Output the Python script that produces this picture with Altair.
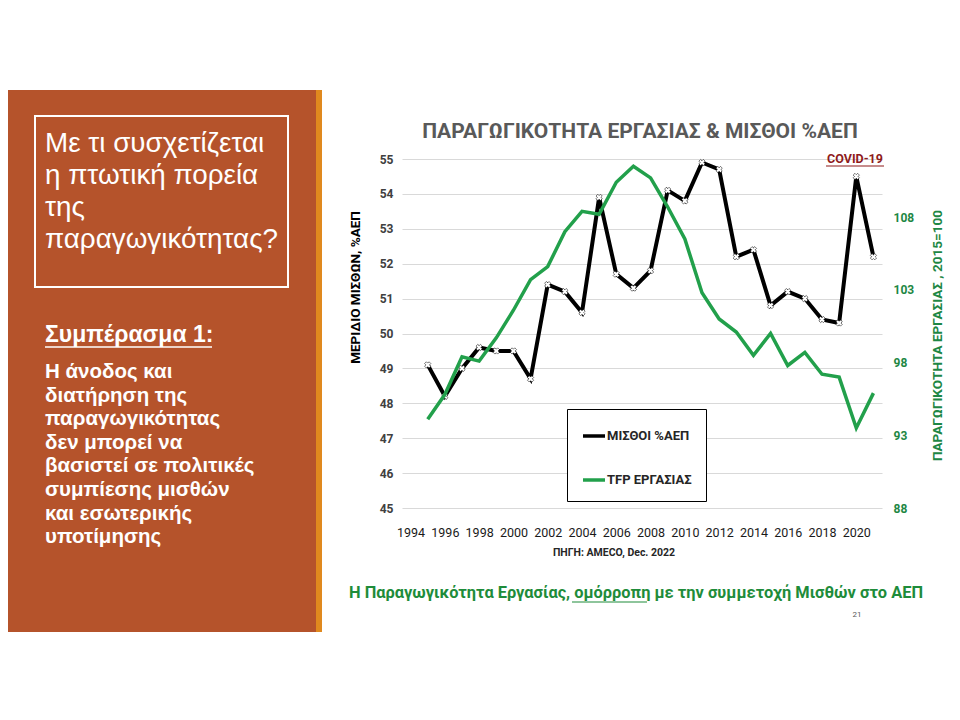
import altair as alt
import pandas as pd

# ---------------- data ----------------
years = list(range(1995, 2022))
wages = [49.1, 48.2, 49.0, 49.6, 49.5, 49.5, 48.7, 51.4, 51.2, 50.6, 53.9, 51.7, 51.3, 51.8,
         54.1, 53.8, 54.9, 54.7, 52.2, 52.4, 50.8, 51.2, 51.0, 50.4, 50.3, 54.5, 52.2]
tfp = [94.1, 95.8, 98.4, 98.1, 99.7, 101.6, 103.7, 104.6, 107.0, 108.4, 108.2, 110.4, 111.5, 110.7,
       108.7, 106.5, 102.8, 101.0, 100.1, 98.5, 100.0, 97.8, 98.7, 97.2, 97.0, 93.5, 95.9]
series_names = ["ΜΙΣΘΟΙ %ΑΕΠ", "TFP ΕΡΓΑΣΙΑΣ"]
x_ticks = list(range(1994, 2021, 2))
left_ticks = list(range(45, 56))
right_ticks = [88, 93, 98, 103, 108]

chart_title = "ΠΑΡΑΓΩΓΙΚΟΤΗΤΑ ΕΡΓΑΣΙΑΣ & ΜΙΣΘΟΙ %ΑΕΠ"
left_title = "ΜΕΡΙΔΙΟ ΜΙΣΘΩΝ, %ΑΕΠ"
right_title = "ΠΑΡΑΓΩΓΙΚΟΤΗΤΑ ΕΡΓΑΣΙΑΣ , 2015=100"
covid_label = "COVID-19"
source_label = "ΠΗΓΗ: AMECO, Dec. 2022"
caption_text = "Η Παραγωγικότητα Εργασίας, ομόρροπη με την συμμετοχή Μισθών στο ΑΕΠ"
page_number = "21"
box_lines = ["Με τι συσχετίζεται", "η πτωτική πορεία", "της", "παραγωγικότητας?"]
concl_title = "Συμπέρασμα 1:"
concl_lines = ["Η άνοδος και", "διατήρηση της", "παραγωγικότητας", "δεν μπορεί να",
               "βασιστεί σε πολιτικές", "συμπίεσης μισθών", "και εσωτερικής", "υποτίμησης"]

df = pd.DataFrame({
    "year": years + years,
    "series": [series_names[0]] * len(years) + [series_names[1]] * len(years),
    "value": wages + tfp,
})

GREEN = "#22A04B"
DGREEN = "#1E8744"
CF = "Roboto"
PF = "Liberation Sans"

W, H = 480, 349

x_enc = alt.X("year:Q",
              scale=alt.Scale(domain=[1993.5, 2021.5], nice=False, zero=False),
              axis=alt.Axis(values=x_ticks, format="d", title=None, grid=False, domain=False,
                            ticks=False, labelPadding=18, labelFontSize=12.5, labelColor="#1a1a1a",
                            labelFont=CF, labelOverlap=False, labelFlush=False))

color_enc = alt.Color("series:N",
                      scale=alt.Scale(domain=series_names, range=["#000000", GREEN]),
                      legend=alt.Legend(title=None, orient="none", legendX=165, legendY=250,
                                        direction="vertical", symbolType="stroke",
                                        symbolStrokeWidth=3.5, symbolSize=484,
                                        labelFont=CF, labelFontSize=13, labelFontWeight="bold",
                                        labelColor="#262626", strokeColor="black",
                                        fillColor="white", padding=14, rowPadding=24,
                                        labelOffset=0))

y_left = alt.Y("value:Q",
               scale=alt.Scale(domain=[45, 55], nice=False, zero=False),
               axis=alt.Axis(values=left_ticks, orient="left", title=left_title,
                             titleX=-47, titleY=128, titleAngle=270, titleAlign="center",
                             titleBaseline="middle", titleFont=CF, titleFontSize=13.5,
                             titleFontWeight="bold", titleColor="#000000",
                             labelFont=CF, labelFontWeight="bold", labelFontSize=12,
                             labelColor="#404040", labelPadding=9, grid=True,
                             gridColor="#D9D9D9", gridWidth=1, domain=False, ticks=False))

y_right = alt.Y("value:Q",
                scale=alt.Scale(domain=[88, 112], nice=False, zero=False),
                axis=alt.Axis(values=right_ticks, orient="right", title=right_title,
                              titleX=55, titleY=176, titleAngle=270, titleAlign="center",
                              titleBaseline="middle", titleFont=CF, titleFontSize=13.5,
                              titleFontWeight="bold", titleColor=DGREEN,
                              labelFont=CF, labelFontWeight="bold", labelFontSize=12,
                              labelColor=DGREEN, labelPadding=11, grid=False,
                              domain=False, ticks=False))

base = alt.Chart(df)
wage_line = base.transform_filter(alt.datum.series == series_names[0]).mark_line(
    strokeWidth=4).encode(x=x_enc, y=y_left, color=color_enc)
wage_pts = base.transform_filter(alt.datum.series == series_names[0]).mark_point(
    shape="cross", angle=45, filled=True, fill="white", stroke="black", strokeWidth=0.5,
    size=40, opacity=1).encode(x=x_enc, y=y_left)
tfp_line = base.transform_filter(alt.datum.series == series_names[1]).mark_line(
    strokeWidth=3.5).encode(x=x_enc, y=y_right, color=color_enc)

main = alt.layer(alt.layer(wage_line, wage_pts), tfp_line).resolve_scale(y="independent")

one = pd.DataFrame({"a": [0]})


def rect(x, x2, y, y2, **kw):
    return alt.Chart(one).mark_rect(**kw).encode(
        x=alt.value(x), x2=alt.value(x2), y=alt.value(y), y2=alt.value(y2))


def text(t, x, y, **kw):
    return alt.Chart(one).mark_text(**kw).encode(
        x=alt.value(x), y=alt.value(y), text=alt.value(t))


def rule(x, x2, y, **kw):
    return alt.Chart(one).mark_rule(**kw).encode(
        x=alt.value(x), x2=alt.value(x2), y=alt.value(y))


panel = rect(-402, -86, -69, 473, color="#B5532B")
strip = rect(-86, -80, -69, 473, color="#E0891E")
box = rect(-367, -114, -43, 128, fill="#B5532B", stroke="white", strokeWidth=2)
box_txt = text("\n".join(box_lines), -357, -7, align="left", baseline="alphabetic", font=PF,
               fontSize=27.8, color="white", lineBreak="\n", lineHeight=32)
concl_t = text(concl_title, -357, 183, align="left", baseline="alphabetic", font=PF,
               fontSize=23, fontWeight="bold", color="white")
concl_u = rule(-357, -190, 188, color="white", strokeWidth=1.5)
concl_p = text("\n".join(concl_lines), -357, 219, align="left", baseline="alphabetic", font=PF,
               fontSize=20.5, fontWeight="bold", color="white", lineBreak="\n", lineHeight=23.6)

title = text(chart_title, 238, -21, align="center", baseline="alphabetic", font=CF,
             fontSize=21, fontWeight="bold", color="#595959")
covid = text(covid_label, 453, 4, align="center", baseline="alphabetic", font=CF,
             fontSize=12.5, fontWeight="bold", color="#8E1B1B")
covid_u = rule(424, 482, 7, color="#8E1B1B", strokeWidth=1.2)
source = text(source_label, 212, 397, align="center", baseline="alphabetic", font=CF,
              fontSize=10.5, fontWeight="bold", color="#262626")
caption = text(caption_text, 234, 439, align="center", baseline="alphabetic", font=CF,
               fontSize=16.4, fontWeight="bold", color="#1E8C3A")
caption_u = rule(170, 245, 443, color="#1E8C3A", strokeWidth=1.2)
pnum = text(page_number, 455, 458, align="center", baseline="alphabetic", font=CF,
            fontSize=8, color="#595959")

chart = alt.layer(
    panel, strip, box, box_txt, concl_t, concl_u, concl_p,
    main, title, covid, covid_u, source, caption, caption_u, pnum
).properties(
    width=W, height=H,
    autosize=alt.AutoSizeParams(type="none"),
    padding={"left": 394, "top": 151, "right": 70, "bottom": 196},
    background="white",
).configure_view(strokeWidth=0)

chart.save("out.html", embed_options={"renderer": "svg", "actions": False})
